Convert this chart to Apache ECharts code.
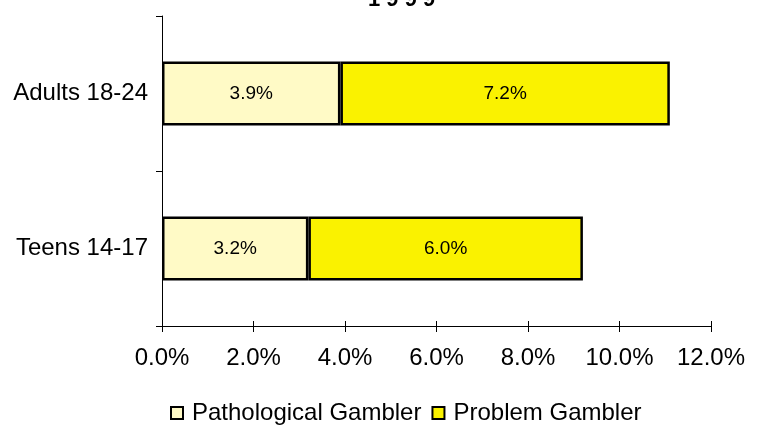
<!DOCTYPE html>
<html>
<head>
<meta charset="utf-8">
<script src="https://cdn.jsdelivr.net/npm/echarts@6/dist/echarts.min.js"></script>
<style>
  html, body { margin: 0; padding: 0; background: #fff; }
  #chart { width: 760px; height: 425px; }
</style>
</head>
<body>
<div id="chart"></div>
<script>
// 数据
var categories = ['Teens 14-17', 'Adults 18-24'];
var pathological = [3.2, 3.9];
var problem = [6.0, 7.2];
var xTicks = [0, 2, 4, 6, 8, 10, 12];

var font = 'Liberation Sans, Arial, sans-serif';

var myChart = echarts.init(document.getElementById('chart'));

function pctLabel(p) {
  return p.value.toFixed(1) + '%';
}

var gridCfg = { left: 162, right: 49, top: 16, bottom: 99 };

var option = {
  animation: false,
  title: {
    text: '1 9 9 9',
    left: 363,
    top: -16,
    textStyle: { fontFamily: font, fontSize: 22, fontWeight: 'bold', color: '#000' }
  },
  legend: {
    top: 396,
    left: 165,
    itemWidth: 12,
    itemHeight: 12,
    itemGap: 10,
    icon: 'rect',
    textStyle: { fontFamily: font, fontSize: 24, color: '#000', padding: [0, 0, 0, 4] },
    data: ['Pathological Gambler', 'Problem Gambler']
  },
  grid: gridCfg,
  xAxis: [
    {
      type: 'value',
      min: xTicks[0],
      max: xTicks[xTicks.length - 1],
      interval: 2,
      axisLine: { show: true, lineStyle: { color: '#000', width: 1 } },
      axisTick: { show: true, length: 6, lineStyle: { color: '#000' } },
      splitLine: { show: false },
      axisLabel: {
        fontFamily: font, fontSize: 24, color: '#000', margin: 20,
        formatter: function (v) { return v.toFixed(1) + '%'; }
      }
    },
    {
      // 刻度线向内的部分
      type: 'value',
      position: 'bottom',
      min: xTicks[0],
      max: xTicks[xTicks.length - 1],
      interval: 2,
      axisLine: { show: false },
      axisTick: { show: true, inside: true, length: 5, lineStyle: { color: '#000' } },
      splitLine: { show: false },
      axisLabel: { show: false }
    }
  ],
  yAxis: {
    type: 'category',
    data: categories,
    axisLine: { show: true, lineStyle: { color: '#000', width: 1 } },
    axisTick: { show: true, length: 6, lineStyle: { color: '#000' } },
    axisLabel: { fontFamily: font, fontSize: 24, color: '#000', margin: 14 }
  },
  series: [
    {
      name: 'Pathological Gambler',
      type: 'bar',
      stack: 'total',
      barWidth: 64,
      data: pathological,
      itemStyle: { color: '#FFFAC6', borderColor: '#000', borderWidth: 2.5 },
      label: { show: true, position: 'inside', fontFamily: font, fontSize: 19, color: '#000', formatter: pctLabel }
    },
    {
      name: 'Problem Gambler',
      type: 'bar',
      stack: 'total',
      barWidth: 64,
      data: problem,
      itemStyle: { color: '#FAF200', borderColor: '#000', borderWidth: 2.5 },
      label: { show: true, position: 'inside', fontFamily: font, fontSize: 19, color: '#000', formatter: pctLabel }
    }
  ]
};
myChart.setOption(option);
</script>
</body>
</html>
